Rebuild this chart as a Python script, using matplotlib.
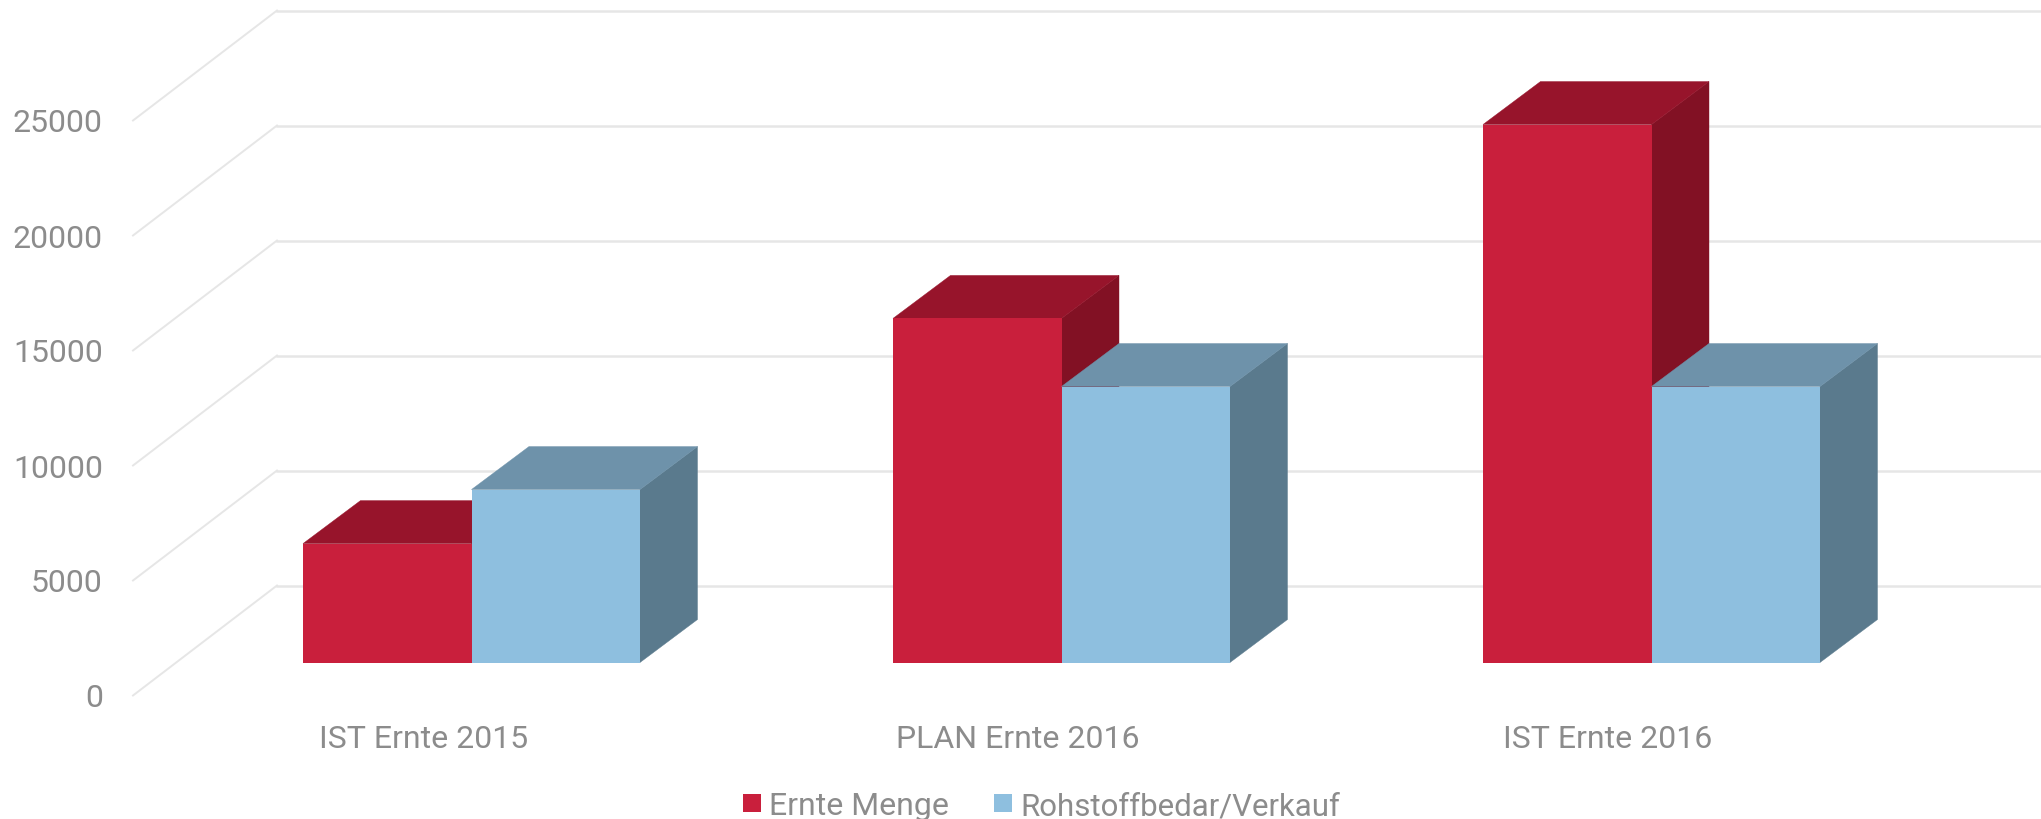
import matplotlib
matplotlib.use("Agg")
import matplotlib.pyplot as plt
from matplotlib.patches import Polygon, Rectangle

categories = ["IST Ernte 2015", "PLAN Ernte 2016", "IST Ernte 2016"]
ernte_menge = [5170, 14960, 23390]
rohstoff = [7520, 12000, 12000]
y_ticks = [0, 5000, 10000, 15000, 20000, 25000]
series_names = ["Ernte Menge", "Rohstoffbedar/Verkauf"]

# layout, in figure pixels
W, H = 2041, 820
px_per_unit = 115 / 5000.0
y0_px = 696.5
bar_left = [303, 893, 1483]
bar_w = 168.5
depth_x = 57.5
depth_y = 43
floor_y = 33
wall_x, wall_y = 144, 110

cols = {"red": ("#C91F3C", "#97142B", "#821124"),
        "blue": ("#8EBFDF", "#6E92AA", "#5A7A8D")}
grey = "#8C8C8C"
font = "Roboto"


def units(px):
    return px / px_per_unit


fig = plt.figure(figsize=(W / 100, H / 100), dpi=100)
ax = fig.add_axes([0, 0, 1, 1])
ax.set_xlim(0, W)
ax.set_ylim(-(H - y0_px) / px_per_unit, y0_px / px_per_unit)
ax.axis("off")

for v in y_ticks:
    ax.plot([133, 133 + wall_x], [v, v + units(wall_y)], color="#E6E6E6", lw=1.4, zorder=1)
    ax.plot([133 + wall_x, W], [v + units(wall_y)] * 2, color="#E6E6E6", lw=1.8, zorder=1)
    ax.text(103, v - units(2.5), str(v), ha="right", va="center", color=grey, fontsize=23, family=font)


def bar3d(x, val, c, z):
    base = units(floor_y)
    dy = units(depth_y)
    top = val + base
    ax.add_patch(Polygon([(x + bar_w, base), (x + bar_w + depth_x, base + dy),
                          (x + bar_w + depth_x, top + dy), (x + bar_w, top)],
                         fc=c[2], ec=c[2], lw=0.3, zorder=z))
    ax.add_patch(Polygon([(x, top), (x + depth_x, top + dy), (x + bar_w + depth_x, top + dy), (x + bar_w, top)],
                         fc=c[1], ec=c[1], lw=0.3, zorder=z))
    ax.add_patch(Rectangle((x, base), bar_w, val, fc=c[0], ec="none", zorder=z))


for i in range(len(categories)):
    bar3d(bar_left[i], ernte_menge[i], cols["red"], 4)
    bar3d(bar_left[i] + bar_w, rohstoff[i], cols["blue"], 5)

label_x = [424, 1018, 1608]
for i, c in enumerate(categories):
    ax.text(label_x[i], units(y0_px - 740), c, ha="center", va="center", color=grey, fontsize=23, family=font)

# legend
leg_y = units(y0_px - 804)
ax.add_patch(Rectangle((743, leg_y - units(9)), 18, units(18), fc=cols["red"][0], ec="none"))
ax.text(769, leg_y - units(3), series_names[0], ha="left", va="center", color=grey, fontsize=23, family=font)
ax.add_patch(Rectangle((994, leg_y - units(9)), 18, units(18), fc=cols["blue"][0], ec="none"))
ax.text(1020, leg_y - units(3), series_names[1], ha="left", va="center", color=grey, fontsize=22.5, family=font)

fig.savefig("out.png", dpi=100)
